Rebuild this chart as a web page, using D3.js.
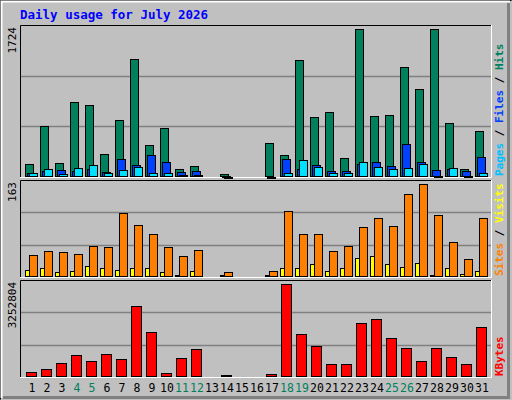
<!DOCTYPE html>
<html lang="en">
<head>
<meta charset="UTF-8">
<title>Daily usage</title>
<script src="https://cdnjs.cloudflare.com/ajax/libs/d3/7.8.5/d3.min.js"></script>
<style>
  body { margin: 0; background: #fff; }
  text { font-family: 'DejaVu Sans Mono', monospace; }
</style>
</head>
<body>
<div id="chart"></div>
<script>
const days = d3.range(1, 32);
const weekend = [4, 5, 11, 12, 18, 19, 25, 26];
const hits = [148,591,160,870,835,264,660,1371,369,567,90,125,0,30,0,0,393,253,1360,695,754,218,1724,707,719,1278,1022,1720,626,90,532];
const files = [43,70,78,70,93,62,206,136,253,171,55,65,0,10,0,0,5,206,93,136,65,65,151,171,128,381,171,78,93,65,229];
const pages = [43,90,35,101,136,43,78,117,43,43,20,28,0,5,0,0,0,43,194,113,43,43,171,113,90,101,148,15,101,15,43];
const visits = [39,45,43,41,54,52,113,91,76,52,36,48,0,9,0,0,11,115,76,75,46,54,87,103,89,145,163,108,61,32,103];
const sites = [13,15,8,11,20,15,13,15,15,8,4,11,0,4,0,0,4,16,16,22,11,16,34,36,22,18,24,4,15,6,11];
const kbytes = [190000,297000,475000,760000,546000,795000,617000,2469000,1579000,154000,653000,973000,0,83000,0,0,119000,3252804,1508000,1080000,439000,439000,1900000,2042000,1365000,1009000,546000,1009000,689000,439000,1757000];

const W = 512, H = 400;
const svg = d3.select("#chart").append("svg").attr("width", W).attr("height", H);

// bevelled frame
svg.append("rect").attr("width", W).attr("height", H).attr("fill", "#c0c0c0");
svg.append("path").attr("d", "M0.5,399.5V0.5H511.5").attr("stroke", "#000").attr("fill", "none");
svg.append("path").attr("d", "M1.5,398V1.5H510").attr("stroke", "#fff").attr("stroke-width", 2).attr("fill", "none");
svg.append("path").attr("d", "M3,397.5H508.5V3").attr("stroke", "#808080").attr("stroke-width", 3).attr("fill", "none");

svg.append("text").attr("x", 20).attr("y", 19).attr("fill", "#0000ff")
  .attr("font-weight", "bold").attr("font-size", 12.5).text("Daily usage for July 2026");

const x = d3.scaleLinear().domain([1, 31]).range([25, 475]);
const left = 20, right = 491;

function panel(top, bottom, max, label, legend, series) {
  const y = d3.scaleLinear().domain([0, max]).range([bottom, top + 4]);
  svg.append("rect").attr("x", left).attr("y", top).attr("width", right - left).attr("height", bottom - top)
    .attr("fill", "#c0c0c0");
  [1, 2].forEach(i => {
    const gy = Math.round(bottom - (bottom - top) * i / 3) + 0.5;
    svg.append("line").attr("x1", left).attr("x2", right).attr("y1", gy).attr("y2", gy)
      .attr("stroke", "#808080").attr("stroke-width", 1.5);
  });
  svg.append("path").attr("d", `M${left + 0.5},${bottom}V${top + 0.5}H${right}`).attr("stroke", "#000").attr("fill", "none");
  svg.append("path").attr("d", `M${left},${bottom + 0.5}H${right + 0.5}V${top}`).attr("stroke", "#fff").attr("fill", "none");

  series.forEach(s => {
    svg.append("g").selectAll("rect").data(days.filter((d, i) => s.values[i] > 0)).join("rect")
      .attr("x", d => x(d) + s.dx + 0.5)
      .attr("y", d => Math.round(y(s.values[d - 1])) + 0.5)
      .attr("width", s.w)
      .attr("height", d => Math.max(1, bottom - 1 - Math.round(y(s.values[d - 1]))))
      .attr("fill", s.color).attr("stroke", "#000");
  });

  svg.append("text").attr("transform", `translate(16,${top + 2}) rotate(-90)`)
    .attr("text-anchor", "end").attr("font-size", 11).attr("fill", "#000").text(label);

  const lg = svg.append("text").attr("transform", `translate(503,${bottom - 1}) rotate(-90)`)
    .attr("font-size", 11).attr("font-weight", "bold");
  legend.forEach((l, i) => {
    if (i) lg.append("tspan").attr("fill", "#000").text(" / ");
    lg.append("tspan").attr("fill", l[1]).text(l[0]);
  });
}

panel(25, 177, 1724, "1724", [["Pages", "#00c0ff"], ["Files", "#0040ff"], ["Hits", "#008060"]], [
  { values: hits, dx: 0, w: 8, color: "#00805c" },
  { values: files, dx: 2, w: 8, color: "#0040ff" },
  { values: pages, dx: 4, w: 8, color: "#00e0ff" }
]);
panel(180, 277, 163, "163", [["Sites", "#ff8000"], ["Visits", "#ffff00"]], [
  { values: sites, dx: 0, w: 4, color: "#ffff00" },
  { values: visits, dx: 4, w: 8, color: "#ff8000" }
]);
panel(280, 377, 3252804, "3252804", [["KBytes", "#ff0000"]], [
  { values: kbytes, dx: 1, w: 10, color: "#ff0000" }
]);

svg.append("g").selectAll("text").data(days).join("text")
  .attr("x", d => x(d) + 7).attr("y", 392).attr("text-anchor", "middle")
  .attr("font-size", 11.5).attr("font-family", "'DejaVu Sans', sans-serif")
  .attr("fill", d => weekend.includes(d) ? "#00805c" : "#000").text(d => d);
</script>
</body>
</html>
